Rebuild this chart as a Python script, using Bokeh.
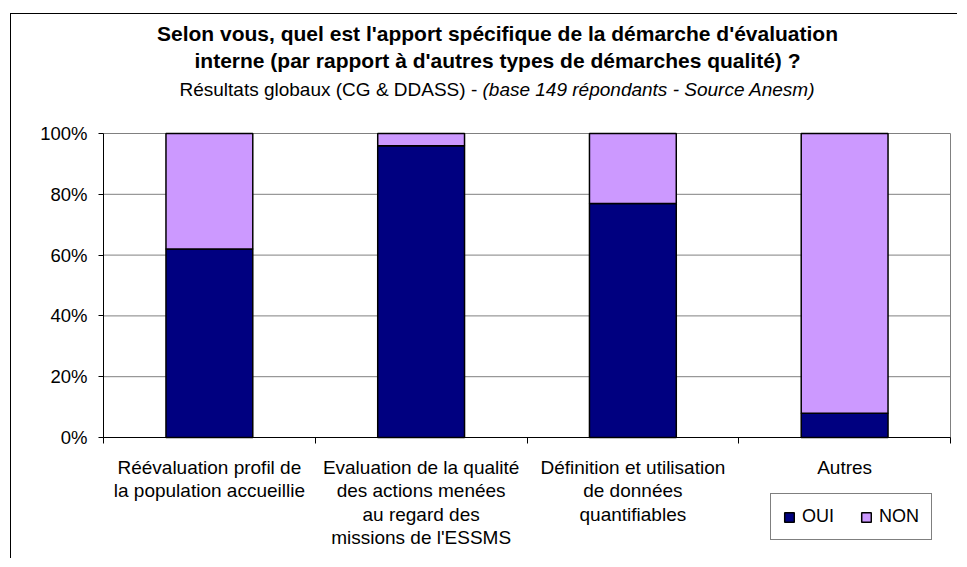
from bokeh.plotting import figure
from bokeh.models import Range1d, FixedTicker, Label, Legend, LegendItem, ColumnDataSource, PrintfTickFormatter
from bokeh.embed import file_html
from bokeh.resources import INLINE

categories = [
    "Réévaluation profil de\nla population accueillie",
    "Evaluation de la qualité\ndes actions menées\nau regard des\nmissions de l'ESSMS",
    "Définition et utilisation\nde données\nquantifiables",
    "Autres",
]
oui = [62, 96, 77, 8]
non = [38, 4, 23, 92]
y_ticks = [0, 20, 40, 60, 80, 100]
title_1 = "Selon vous, quel est l'apport spécifique de la démarche d'évaluation"
title_2 = "interne (par rapport à d'autres types de démarches qualité) ?"
sub_normal = "Résultats globaux (CG & DDASS) - "
sub_italic = "(base 149 répondants - Source Anesm)"

FONT = "Liberation Sans"
NAVY = "#000080"
LAV = "#CC99FF"
GRID = "#808080"

n_cat = len(categories)
xs = [i + 0.5 for i in range(n_cat)]
tops_non = [o + n for o, n in zip(oui, non)]
src = ColumnDataSource(dict(x=xs, oui=oui, top_non=tops_non, zero=[0] * n_cat))

# The frame covers the whole chart box so that titles and legend are not clipped.
W, H = 947, 545
px_x = 847 / n_cat          # pixels per category
px_y = 304 / 100            # pixels per percent
x_range = Range1d(-92 / px_x, n_cat + 8 / px_x)
y_range = Range1d(-122 / px_y, 100 + 119 / px_y)

p = figure(width=W, height=H, output_backend="svg", toolbar_location=None,
           x_range=x_range, y_range=y_range,
           min_border_left=0, min_border_right=0, min_border_top=0, min_border_bottom=0)
p.styles = {"border-top": "1px solid #000000", "border-left": "1px solid #000000",
            "margin-left": "10px", "margin-top": "13px"}
p.outline_line_color = None
p.xgrid.visible = False
p.ygrid.visible = False

# horizontal gridlines at tick values and right edge of plotting area
p.segment(x0=[0] * len(y_ticks), x1=[n_cat] * len(y_ticks), y0=y_ticks, y1=y_ticks,
          line_color=GRID, line_width=1)
p.segment(x0=[n_cat], x1=[n_cat], y0=[0], y1=[100], line_color=GRID, line_width=1)

r_oui = p.vbar(x="x", bottom="zero", top="oui", width=0.41, source=src,
               fill_color=NAVY, line_color="black", line_width=1.5)
r_non = p.vbar(x="x", bottom="oui", top="top_non", width=0.41, source=src,
               fill_color=LAV, line_color="black", line_width=1.5)

# y axis
p.yaxis.fixed_location = 0
p.yaxis.bounds = (0, 100)
p.yaxis.ticker = FixedTicker(ticks=y_ticks)
p.yaxis.formatter = PrintfTickFormatter(format="%d%%")
p.yaxis.major_label_text_font = FONT
p.yaxis.major_label_text_font_size = "18.5px"
p.yaxis.major_label_text_color = "black"
p.yaxis.major_tick_out = 5
p.yaxis.major_tick_in = 0
p.yaxis.minor_tick_line_color = None
p.yaxis.axis_line_color = "black"
p.yaxis.major_label_standoff = 11

# x axis
p.xaxis.fixed_location = 0
p.xaxis.bounds = (0, n_cat)
p.xaxis.ticker = FixedTicker(ticks=xs, minor_ticks=list(range(n_cat + 1)))
p.xaxis.major_label_overrides = {x: c for x, c in zip(xs, categories)}
p.xaxis.major_label_text_font = FONT
p.xaxis.major_label_text_font_size = "19px"
p.xaxis.major_label_text_color = "black"
p.xaxis.major_label_text_line_height = 1.12
p.xaxis.major_label_standoff = 13
p.xaxis.major_tick_out = 0
p.xaxis.major_tick_in = 0
p.xaxis.minor_tick_out = 6
p.xaxis.minor_tick_in = 0
p.xaxis.minor_tick_line_color = "black"
p.xaxis.axis_line_color = "black"

# titles
cx = (497 - 103) / px_x
p.add_layout(Label(x=cx, y=(437 - 33) / px_y, text=title_1, text_align="center",
                   text_baseline="alphabetic", text_font=FONT, text_font_size="21px",
                   text_font_style="bold", text_color="black"))
p.add_layout(Label(x=cx, y=(437 - 60) / px_y, text=title_2, text_align="center",
                   text_baseline="alphabetic", text_font=FONT, text_font_size="21px",
                   text_font_style="bold", text_color="black"))
split_x = (482 - 103) / px_x
sub_y = (437 - 89) / px_y
p.add_layout(Label(x=split_x, y=sub_y, text=sub_normal, text_align="right",
                   text_baseline="alphabetic", text_font=FONT, text_font_size="19px",
                   text_color="black"))
p.add_layout(Label(x=split_x, y=sub_y, text=sub_italic, text_align="left",
                   text_baseline="alphabetic", text_font=FONT, text_font_size="19px",
                   text_font_style="italic", text_color="black"))

legend = Legend(items=[LegendItem(label="OUI", renderers=[r_oui]),
                       LegendItem(label="NON", renderers=[r_non])],
                orientation="horizontal", location=(759, 19),
                label_text_font=FONT, label_text_font_size="18px", label_text_color="black",
                glyph_width=12, glyph_height=12, label_standoff=7, spacing=26,
                padding=12, margin=0, label_height=17,
                border_line_color="black", border_line_width=1, background_fill_color="white",
                background_fill_alpha=1)
p.add_layout(legend, "center")

open("out.html", "w").write(file_html(p, INLINE))
